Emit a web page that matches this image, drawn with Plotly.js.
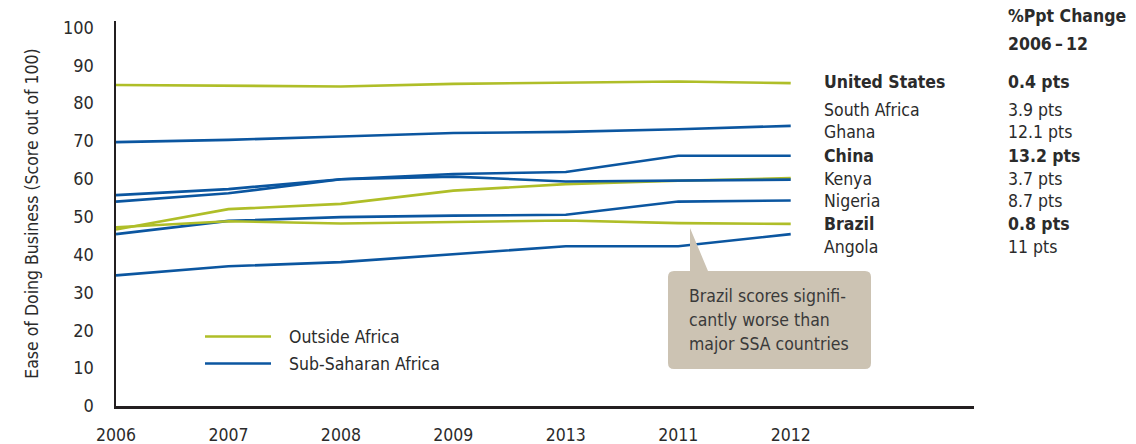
<!DOCTYPE html>
<html>
<head>
<meta charset="utf-8">
<script src="https://cdn.plot.ly/plotly-3.0.1.min.js"></script>
<style>
  html, body { margin: 0; padding: 0; background: #fff; }
  #plot { width: 1136px; height: 444px; }
</style>
</head>
<body>
<div id="plot"></div>
<script>
/* data */
const years = ['2006', '2007', '2008', '2009', '2013', '2011', '2012'];

const unitedStates = [84.8, 84.6, 84.4, 85.1, 85.4, 85.7, 85.3];
const southAfrica = [69.7, 70.3, 71.2, 72.1, 72.4, 73.1, 74.0];
const ghana = [54.0, 56.2, 59.9, 61.3, 61.8, 66.1, 66.1];
const china = [46.6, 52.0, 53.4, 56.9, 58.6, 59.5, 60.2];
const kenya = [55.7, 57.3, 59.9, 60.6, 59.3, 59.6, 59.8];
const nigeria = [45.4, 48.9, 49.9, 50.3, 50.5, 54.0, 54.3];
const brazil = [47.2, 48.8, 48.2, 48.6, 49.0, 48.3, 48.1];
const angola = [34.5, 36.9, 38.0, 40.0, 42.2, 42.2, 45.4];

const countries = ['United States', 'South Africa', 'Ghana', 'China', 'Kenya', 'Nigeria', 'Brazil', 'Angola'];
const changes = ['0.4 pts', '3.9 pts', '12.1 pts', '13.2 pts', '3.7 pts', '8.7 pts', '0.8 pts', '11 pts'];
const highlighted = ['United States', 'China', 'Brazil'];

const groups = ['Outside Africa', 'Sub-Saharan Africa'];
const calloutLines = ['Brazil scores signifi-', 'cantly worse than', 'major SSA countries'];

/* styling */
const GREEN = '#afbe28';
const BLUE = '#0b56a0';
const INK = '#2b2b2b';
const FONT = "'DejaVu Sans Condensed', 'DejaVu Sans', sans-serif";

/* plot area in pixels, used to place labels */
const L = 116, R = 162, T = 21, B = 38, W = 1136, H = 444;
const pw = W - L - R, ph = H - T - B;
const px = x => (x - L) / pw;
const py = y => (H - B - y) / ph;

const series = [
  { y: unitedStates, color: GREEN },
  { y: southAfrica, color: BLUE },
  { y: ghana, color: BLUE },
  { y: china, color: GREEN },
  { y: kenya, color: BLUE },
  { y: nigeria, color: BLUE },
  { y: brazil, color: GREEN },
  { y: angola, color: BLUE }
];

const traces = series.map((s, i) => ({
  x: years,
  y: s.y,
  name: countries[i],
  mode: 'lines',
  line: { color: s.color, width: 2.6 },
  showlegend: false,
  hoverinfo: 'x+y+name'
}));

/* right-hand labels */
const labelRows = [82, 110, 132, 156, 179, 201, 224, 247];
const annotations = [];
countries.forEach((c, i) => {
  const bold = highlighted.includes(c);
  annotations.push({
    xref: 'paper', yref: 'paper', x: px(822), y: py(labelRows[i]),
    xanchor: 'left', yanchor: 'middle', showarrow: false,
    text: bold ? '<b>' + c + '</b>' : c,
    font: { family: FONT, size: 17.5, color: INK }
  });
  annotations.push({
    xref: 'paper', yref: 'paper', x: px(1006), y: py(labelRows[i]),
    xanchor: 'left', yanchor: 'middle', showarrow: false,
    text: bold ? '<b>' + changes[i] + '</b>' : changes[i],
    font: { family: FONT, size: 17.5, color: INK }
  });
});
annotations.push({
  xref: 'paper', yref: 'paper', x: px(1006), y: py(16),
  xanchor: 'left', yanchor: 'middle', showarrow: false,
  text: '<b>%Ppt Change</b>', font: { family: FONT, size: 17.5, color: INK }
});
annotations.push({
  xref: 'paper', yref: 'paper', x: px(1006), y: py(44),
  xanchor: 'left', yanchor: 'middle', showarrow: false,
  text: '<b>2006\u2009\u2013\u200912</b>', font: { family: FONT, size: 17.5, color: INK }
});

/* legend */
const legendRows = [336.5, 363.5];
const shapes = [];
groups.forEach((g, i) => {
  shapes.push({
    type: 'line', xref: 'paper', yref: 'paper',
    x0: px(205), x1: px(271), y0: py(legendRows[i]), y1: py(legendRows[i]),
    line: { color: i === 0 ? GREEN : BLUE, width: 2.6 }
  });
  annotations.push({
    xref: 'paper', yref: 'paper', x: px(287), y: py(legendRows[i]),
    xanchor: 'left', yanchor: 'middle', showarrow: false,
    text: g, font: { family: FONT, size: 17.5, color: INK }
  });
});

/* callout box with pointer */
const pts = [[690, 228], [708, 271], [865, 271], 'q', [871, 271], [871, 277], [871, 363], 'q', [871, 369], [865, 369],
  [674, 369], 'q', [668, 369], [668, 363], [668, 277], 'q', [668, 271], [674, 271], [690, 271]];
let d = '';
let first = true;
for (let i = 0; i < pts.length; i++) {
  const p = pts[i];
  if (p === 'q') {
    const c = pts[i + 1], e = pts[i + 2];
    d += ' Q ' + px(c[0]) + ',' + py(c[1]) + ' ' + px(e[0]) + ',' + py(e[1]);
    i += 2;
  } else {
    d += (first ? 'M ' : ' L ') + px(p[0]) + ',' + py(p[1]);
    first = false;
  }
}
d += ' Z';
shapes.push({
  type: 'path', xref: 'paper', yref: 'paper', path: d,
  fillcolor: '#ccc3b3', line: { width: 0 }, layer: 'above'
});
calloutLines.forEach((t, i) => {
  annotations.push({
    xref: 'paper', yref: 'paper', x: px(687), y: py(296 + i * 24),
    xanchor: 'left', yanchor: 'middle', showarrow: false,
    text: t, font: { family: FONT, size: 17.5, color: '#3a3a3a' }
  });
});

const layout = {
  width: W, height: H,
  margin: { l: L, r: R, t: T, b: B },
  paper_bgcolor: '#fff',
  plot_bgcolor: '#fff',
  font: { family: FONT, color: INK, size: 18 },
  showlegend: false,
  xaxis: {
    type: 'category',
    range: [0, 7.63],
    showgrid: false,
    zeroline: false,
    showline: true,
    linecolor: '#231f20',
    linewidth: 2.5,
    ticks: '',
    ticklabelstandoff: 11,
    tickfont: { family: FONT, size: 17.5, color: INK }
  },
  yaxis: {
    range: [0, 101.7],
    dtick: 10,
    showgrid: false,
    zeroline: false,
    showline: true,
    linecolor: '#231f20',
    linewidth: 2.5,
    ticks: '',
    ticklabelstandoff: 16,
    tickfont: { family: FONT, size: 18, color: INK },
    title: {
      text: 'Ease of Doing Business (Score out of 100)',
      standoff: 20,
      font: { family: FONT, size: 17.5, color: INK }
    }
  },
  shapes: shapes,
  annotations: annotations
};

Plotly.newPlot('plot', traces, layout, { displayModeBar: false, staticPlot: true });
</script>
</body>
</html>
